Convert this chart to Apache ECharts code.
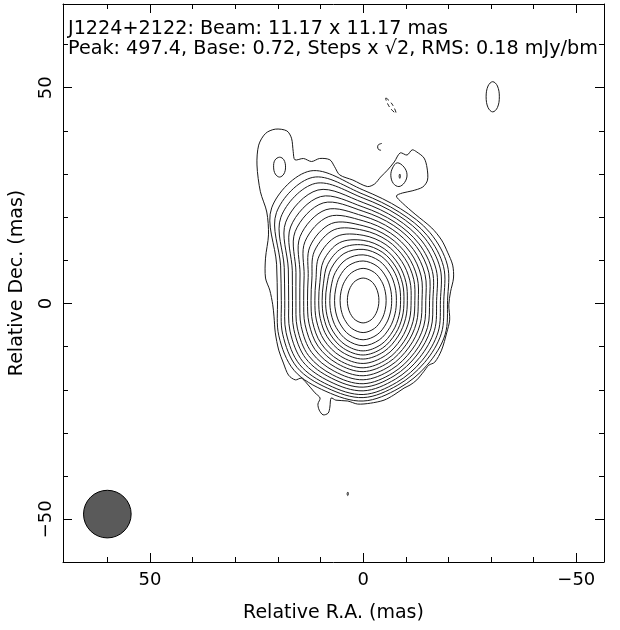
<!DOCTYPE html>
<html><head><meta charset="utf-8">
<script src="https://cdn.jsdelivr.net/npm/echarts@6/dist/echarts.min.js"></script>
<style>html,body{margin:0;padding:0;background:#fff}#c{width:620px;height:630px}</style>
</head><body><div id="c"></div>
<script>
// ---------- data ----------
const titleLines = [
  'J1224+2122: Beam: 11.17 x 11.17 mas',
  'Peak: 497.4, Base: 0.72, Steps x \u221A2, RMS: 0.18 mJy/bm'
];
const xName = 'Relative R.A. (mas)';
const yName = 'Relative Dec. (mas)';
const xRange = [-56.5, 70.4];
const yRange = [-59.9, 69.4];
const xMajorTicks = [50, 0, -50];
const xMinorTicks = [60, 40, 30, 20, 10, -10, -20, -30, -40];
const yMajorTicks = [50, 0, -50];
const yMinorTicks = [60, 40, 30, 20, 10, -10, -20, -30, -40];

// beam: centre (mas) and diameter (mas)
const beam = [60.0, -48.8, 11.17];

// nested contour levels 1..18 around the core (mas):
// base elliptical half-widths per level, plus how strongly each level follows the outer outline
const coreCenter = [0, 0.7];
const levelSemiX = [20.0, 19.1, 18.3, 17.39, 16.5, 15.7, 14.8, 13.9, 13.01, 12.19, 11.3, 10.4, 9.6, 8.8, 7.81, 6.7, 5.4, 3.7];
const levelSemiY = [23.0, 22.23, 21.54, 20.71, 19.88, 19.11, 18.22, 17.31, 16.38, 15.51, 14.53, 13.52, 12.6, 11.66, 10.47, 9.1, 7.44, 5.2];
const levelOutlineWeight = [1, 0.92, 0.84, 0.76, 0.68, 0.6, 0.52, 0.44, 0.36, 0.29, 0.22, 0.16, 0.11, 0.07, 0.04, 0.02, 0, 0];
// screen directions (deg, 0 = right, 90 = up) and the outline's excess radius (mas) along each
const rayAngles = [0, 22.5, 45, 67.5, 90, 112.5, 135, 157.5, 180, 202.5, 225, 247.5, 270, 292.5, 315, 337.5];
const rayExcess = [-0.2, 1.03, 0.86, 0.52, 2.6, 10.0, 9.0, 1.6, 0.1, 1.03, 1.56, 0.32, 0.3, -0.48, -0.14, 0.43];

// lowest contour (level 0), traced in mas
const outerContour = [
  [24.1,25.9],[24.9,32.1],[24.5,36.7],[22.9,39.4],[20.6,40.4],[17.9,40.0],[16.8,38.3],[16.4,35.2],
  [16.0,33.3],[14.0,33.6],[12.1,32.9],[10.2,33.6],[7.8,33.3],[6.7,31.7],[5.5,29.8],[2.4,28.6],
  [-1.0,27.1],[-2.7,27.7],[-4.1,29.3],[-5.7,30.9],[-7.3,32.8],[-8.7,34.9],[-10.3,34.4],[-11.5,35.6],
  [-12.6,35.1],[-14.3,33.7],[-15.0,31.4],[-15.1,28.6],[-14.0,27.0],[-11.5,26.1],[-9.2,25.6],[-7.8,24.9],
  [-9.2,23.3],[-12.2,20.7],[-16.1,17.5],[-18.4,14.7],[-19.8,11.9],[-21.0,8.9],[-21.2,5.9],[-20.5,2.7],
  [-20.1,-0.3],[-20.3,-3.8],[-19.6,-6.8],[-18.4,-10.8],[-16.8,-13.6],[-15.4,-14.3],[-14.2,-15.8],[-12.6,-17.7],
  [-11.0,-18.9],[-9.6,-19.6],[-7.2,-21.2],[-4.9,-22.4],[-1.7,-23.1],[1.3,-23.3],[3.6,-22.6],[6.4,-22.4],
  [7.5,-21.9],[7.8,-24.0],[8.2,-25.4],[9.4,-25.8],[10.3,-24.7],[10.6,-23.3],[10.1,-21.9],[11.3,-20.7],
  [13.3,-18.4],[14.5,-17.3],[15.9,-17.7],[17.5,-16.6],[18.7,-13.8],[19.8,-10.8],[20.6,-6.8],[20.9,-3.1],
  [21.2,-0.3],[21.9,3.1],[22.9,5.9],[22.9,10.5],[22.2,15.9],[22.6,21.2]
];
// small isolated contours, traced in mas
const knobContour = [[19.6,33.9],[18.6,33.3],[18.2,31.6],[18.6,30.0],[19.6,29.3],[20.6,30.0],[21.0,31.6],[20.7,33.2]];
const blobContour = [[-8.0,32.6],[-9.6,31.6],[-10.3,29.8],[-9.7,28.0],[-8.4,27.1],[-7.1,27.8],[-6.5,29.6],[-6.9,31.4]];
const blobCore = [[-8.6,30.0],[-8.75,29.5],[-8.6,29.0],[-8.45,29.5]];
const arcC = [[-4.4,37.1],[-3.6,36.8],[-3.4,36.3],[-3.6,35.7],[-4.2,35.5]];
const negContour = [[-5.3,47.6],[-6.8,46.2],[-7.7,44.1],[-6.2,45.5]];
const ringNE = [[-30.4,51.4],[-31.5,50.4],[-31.95,47.9],[-31.5,45.4],[-30.4,44.4],[-29.3,45.4],[-28.85,47.9],[-29.3,50.4]];
const tickSouth = [[3.6,-43.7],[3.45,-44.1],[3.6,-44.5],[3.75,-44.1]];

// ---------- build ----------
const contours = [];
contours.push({pts: outerContour, closed: true, smooth: 0.3});
for (let k = 0; k < levelSemiX.length; k++) {
  const a = levelSemiX[k], b = levelSemiY[k], w = levelOutlineWeight[k];
  const pts = rayAngles.map((deg, j) => {
    const t = deg * Math.PI / 180, c = Math.cos(t), s = Math.sin(t);
    const r = 1 / Math.sqrt(c * c / (a * a) + s * s / (b * b)) + w * rayExcess[j];
    return [coreCenter[0] - r * c, coreCenter[1] + r * s];
  });
  contours.push({pts, closed: true, smooth: 0.34});
}
contours.push({pts: knobContour, closed: true, smooth: 0.37});
contours.push({pts: blobContour, closed: true, smooth: 0.37});
contours.push({pts: blobCore, closed: true, smooth: 0.37});
contours.push({pts: arcC, closed: false, smooth: 0.3});
contours.push({pts: negContour, closed: true, smooth: 0.37, dash: true});
contours.push({pts: ringNE, closed: true, smooth: 0.37});
contours.push({pts: tickSouth, closed: true, smooth: 0.37});

const FONT = 'DejaVu Sans';
const fmt = v => (v < 0 ? '\u2212' + Math.abs(v) : String(v));
function xAx(pos, ticks, len, major) {
  return {
    type: 'value', position: pos, inverse: true, min: xRange[0], max: xRange[1],
    splitLine: {show: false},
    axisLine: {show: major, onZero: false, lineStyle: {color: '#000', width: 1}},
    axisTick: {show: true, inside: true, length: len, customValues: ticks, lineStyle: {color: '#000', width: 1}},
    axisLabel: (major && pos === 'bottom') ? {show: true, customValues: ticks, formatter: fmt, margin: 9,
      fontFamily: FONT, fontSize: 18, color: '#000'} : {show: false},
    name: (major && pos === 'bottom') ? xName : '',
    nameLocation: 'middle', nameGap: 42,
    nameTextStyle: {fontFamily: FONT, fontSize: 19, color: '#000'}
  };
}
function yAx(pos, ticks, len, major) {
  return {
    type: 'value', position: pos, min: yRange[0], max: yRange[1],
    splitLine: {show: false},
    axisLine: {show: major, onZero: false, lineStyle: {color: '#000', width: 1}},
    axisTick: {show: true, inside: true, length: len, customValues: ticks, lineStyle: {color: '#000', width: 1}},
    axisLabel: (major && pos === 'left') ? {show: true, customValues: ticks, formatter: fmt, rotate: 90, margin: 8,
      fontFamily: FONT, fontSize: 18, color: '#000'} : {show: false},
    name: (major && pos === 'left') ? yName : '',
    nameLocation: 'middle', nameGap: 36,
    nameTextStyle: {fontFamily: FONT, fontSize: 19, color: '#000'}
  };
}

const chart = echarts.init(document.getElementById('c'), null, {renderer: 'canvas'});
chart.setOption({
  animation: false,
  backgroundColor: '#fff',
  title: {
    text: titleLines.join('\n'), left: 68, top: 19, padding: 0,
    textStyle: {fontFamily: FONT, fontSize: 19.2, fontWeight: 'normal', color: '#000', lineHeight: 20}
  },
  grid: {left: 57, top: 4, width: 547, height: 558, containLabel: false},
  xAxis: [
    xAx('bottom', xMajorTicks, 9, true), xAx('bottom', xMinorTicks, 5, false),
    xAx('top', xMajorTicks, 9, true), xAx('top', xMinorTicks, 5, false)
  ],
  yAxis: [
    yAx('left', yMajorTicks, 9, true), yAx('left', yMinorTicks, 5, false),
    yAx('right', yMajorTicks, 9, true), yAx('right', yMinorTicks, 5, false)
  ],
  series: [
    {
      type: 'custom', coordinateSystem: 'cartesian2d', xAxisIndex: 0, yAxisIndex: 0,
      silent: true, clip: true,
      data: contours.map((c, i) => [c.pts[0][0], c.pts[0][1], i]),
      renderItem: function (params, api) {
        const c = contours[params.dataIndex];
        const pts = c.pts.map(p => api.coord(p));
        return {
          type: c.closed ? 'polygon' : 'polyline',
          shape: {points: pts, smooth: c.smooth},
          style: {fill: c.closed ? 'none' : null, stroke: '#1a1a1a', lineWidth: 1, lineDash: c.dash ? [4, 3] : null}
        };
      }
    },
    {
      type: 'custom', coordinateSystem: 'cartesian2d', xAxisIndex: 0, yAxisIndex: 0,
      silent: true,
      data: [beam],
      renderItem: function (params, api) {
        const c = api.coord([api.value(0), api.value(1)]);
        const r = api.size([api.value(2), 0])[0] / 2;
        return {type: 'circle', shape: {cx: c[0], cy: c[1], r: r},
          style: {fill: '#5a5a5a', stroke: '#000', lineWidth: 1}};
      }
    }
  ]
});
</script></body></html>
